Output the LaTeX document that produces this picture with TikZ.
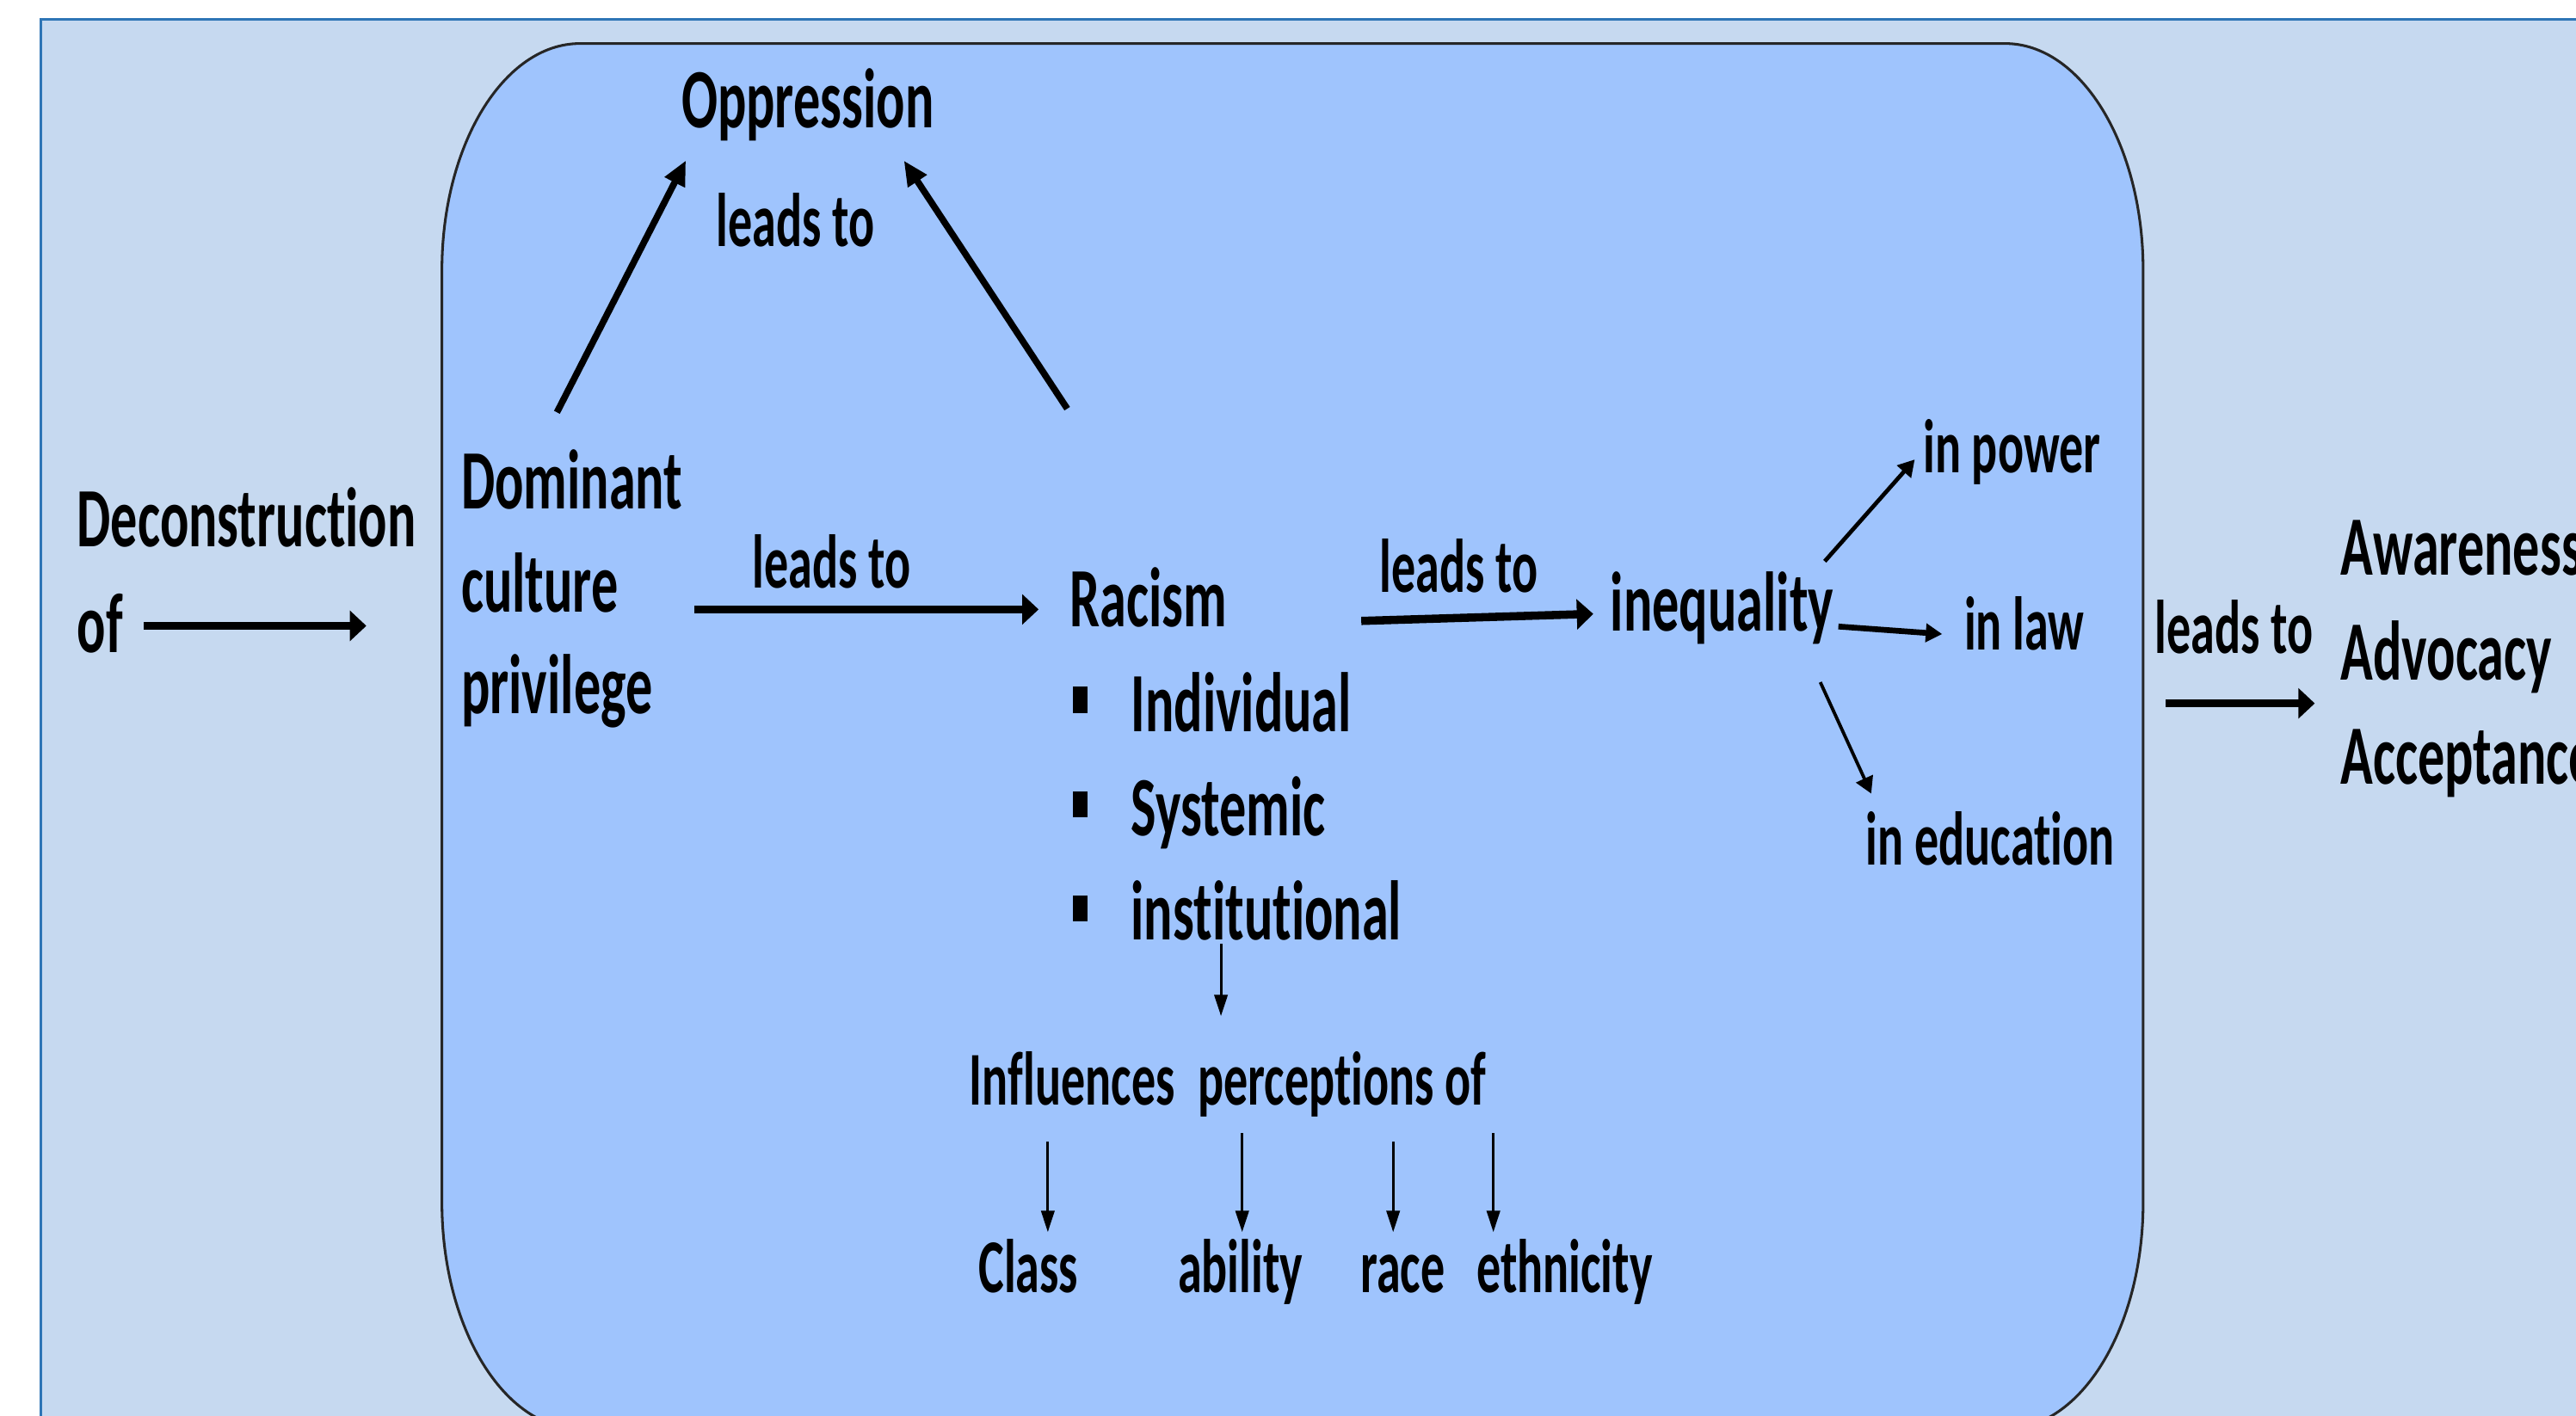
\documentclass[tikz,border=0pt]{standalone}
\usepackage{fontspec}
\setmainfont{Carlito}[FakeStretch=0.634,Ligatures={NoCommon,NoContextual,NoRare}]
\usetikzlibrary{arrows.meta}
\definecolor{pageblue}{RGB}{198,217,240}
\definecolor{frameblue}{RGB}{46,117,182}
\definecolor{boxblue}{RGB}{159,196,253}
\newcommand{\sqbul}{\raisebox{11.4pt}{\rule{9.3pt}{15.9pt}}\hspace{26.3pt}}

\begin{document}
\begin{tikzpicture}[x=1pt,y=-1pt,
  big/.style={font=\bfseries\fontsize{51.4}{62.5}\selectfont,inner sep=0pt,anchor=base west},
  small/.style={font=\bfseries\fontsize{46.3}{56}\selectfont,inner sep=0pt,anchor=base west},
  harrow/.style={line width=5pt,-{Triangle[length=10pt,width=18pt]}},
  darrow/.style={line width=4pt,-{Triangle[length=15pt,width=13pt]}},
  midarrow/.style={line width=2.5pt,-{Triangle[length=10pt,width=11pt]}},
  thinarrow/.style={line width=1.6pt,-{Triangle[length=13pt,width=8pt]}},
  innerbox/.style={fill=boxblue,draw=black!85,line width=1.6pt}]
\fill[white] (0,0) rectangle (1568,862);
\useasboundingbox (0,0) rectangle (1568,862);
%outer frame
\draw[fill=pageblue,draw=frameblue,line width=1.5pt] (25,12) rectangle (1620,900);
%rounded box
\draw[innerbox] (353,26.5) -- (1220.5,26.5) arc[start angle=-90,end angle=0,x radius=84,y radius=138]
  -- (1304.5,732) arc[start angle=0,end angle=90,x radius=84,y radius=138]
  -- (353,870) arc[start angle=90,end angle=180,x radius=84,y radius=138]
  -- (269,164.5) arc[start angle=180,end angle=270,x radius=84,y radius=138] -- cycle;

% Text Node
\node[big] (decon) at (46.8,333) {Deconstruction};
\node[big] (of) at (46.8,397) {of};
\node[big] (dom) at (280.6,309.7) {Dominant};
\node[big] (cult) at (280.6,372.8) {culture};
\node[big] (priv) at (280.6,434.5) {privilege};
\node[big] (opp) at (414.6,78) {Oppression};
\node[small] (leadtop) at (435.7,150.2) {leads to};
\node[small] (leadrac) at (457.7,357.9) {leads to};
\node[big] (racism) at (650.9,381.5) {Racism};
\node[big] (indiv) at (652.7,445.3) {\sqbul Individual};
\node[big] (syst) at (652.7,509) {\sqbul Systemic};
\node[big] (inst) at (652.7,572.3) {\sqbul institutional};
\node[small] (leadineq) at (839.8,360.6) {leads to};
\node[big] (ineq) at (980.1,384) {inequality};
\node[small] (power) at (1170.5,287.9) {in power};
\node[small] (law) at (1195.5,395.5) {in law};
\node[small] (educ) at (1135.7,526.4) {in education};
\node[small] (leadaw) at (1311.6,397.8) {leads to};
\node[big] (aware) at (1424.6,349.9) {Awareness};
\node[big] (advoc) at (1424.6,414.2) {Advocacy};
\node[big] (accept) at (1424.6,477.3) {Acceptance};
\node[small] (infl) at (590,672.5) {Influences\hspace{14pt}perceptions of};
\node[small] (class) at (595.5,786.7) {Class};
\node[small] (abil) at (716.8,786.7) {ability};
\node[small] (race) at (828,786.7) {race};
\node[small] (ethn) at (898.6,786.7) {ethnicity};
\coordinate (ofend) at (223,381);
\coordinate (rtail) at (649.6,248.8);

% Connection
\draw[harrow] ([shift={(40.7,-16)}]of.base west) -- (ofend);
\draw[harrow] ([shift={(142,-1.8)}]cult.base west) -- ([shift={(-18.7,-10.5)}]racism.base west);
\draw[harrow] ([shift={(177.7,-3.5)}]racism.base west) -- ([shift={(-10.3,-10.3)}]ineq.base west);
\draw[harrow] ([shift={(6.7,30.4)}]leadaw.base west) -- ([shift={(-15.6,14)}]advoc.base west);
\draw[darrow] ([shift={(58.4,-58.7)}]dom.base west) -- ([shift={(2.9,19.7)}]opp.base west);
\draw[darrow] (rtail) -- ([shift={(135.6,19.8)}]opp.base west);
% Connection
\draw[midarrow] ([shift={(130.6,-42.3)}]ineq.base west) -- ([shift={(-5,-8.2)}]power.base west);
\draw[midarrow,line width=3.5pt] ([shift={(138.9,-2.6)}]ineq.base west) -- ([shift={(-13.3,-9.5)}]law.base west);
\draw[midarrow,line width=2pt] ([shift={(127.9,31.3)}]ineq.base west) -- ([shift={(3.3,-43.3)}]educ.base west);
% Connection
\draw[thinarrow] ([shift={(90.5,2.2)}]inst.base west) -- ([shift={(153.2,-53.9)}]infl.base west);
\draw[thinarrow] ([shift={(47.8,22.6)}]infl.base west) -- ([shift={(42.3,-36.6)}]class.base west);
\draw[thinarrow] ([shift={(166.1,17.3)}]infl.base west) -- ([shift={(39.3,-36.6)}]abil.base west);
\draw[thinarrow] ([shift={(258,22.6)}]infl.base west) -- ([shift={(20,-36.6)}]race.base west);
\draw[thinarrow] ([shift={(319,17.3)}]infl.base west) -- ([shift={(10.4,-36.6)}]ethn.base west);

\end{tikzpicture}
\end{document}
